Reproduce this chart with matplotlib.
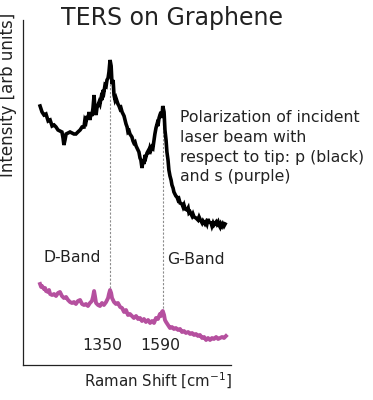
import matplotlib
matplotlib.use('Agg')
import matplotlib.pyplot as plt

# Raman shift [cm^-1] and intensity [arb units]
p_shift = [1030, 1039, 1048, 1057, 1067, 1076, 1085, 1094, 1103, 1112, 1121, 1130,
           1135, 1139, 1144, 1149, 1158, 1167, 1176, 1185, 1194, 1203, 1213, 1222,
           1231, 1235, 1240, 1245, 1249, 1254, 1258, 1263, 1267, 1272, 1277, 1281,
           1286, 1290, 1300, 1304, 1309, 1313, 1318, 1322, 1327, 1332, 1336, 1341,
           1345, 1350, 1355, 1359, 1364, 1368, 1373, 1377, 1386, 1391, 1396, 1400,
           1405, 1414, 1423, 1428, 1432, 1437, 1441, 1450, 1455, 1459, 1464, 1469,
           1478, 1482, 1487, 1491, 1496, 1501, 1505, 1510, 1514, 1519, 1524, 1528,
           1533, 1537, 1542, 1546, 1551, 1555, 1560, 1565, 1569, 1574, 1578, 1583,
           1587, 1591, 1597, 1601, 1606, 1610, 1615, 1619, 1624, 1629, 1633, 1638,
           1642, 1651, 1656, 1661, 1665, 1670, 1679, 1684, 1688, 1693, 1702, 1707,
           1711, 1716, 1725, 1729, 1734, 1743, 1752, 1757, 1761, 1771, 1775, 1784,
           1789, 1793, 1798, 1802, 1812, 1816, 1821, 1825, 1835, 1839, 1844, 1848,
           1853, 1857, 1862, 1866, 1871, 1876]
p_int = [259, 253, 250, 251, 244, 245, 239, 240, 238, 235, 234, 233,
         227, 220, 225, 231, 232, 233, 232, 231, 231, 233, 235, 238,
         238, 245, 243, 249, 246, 253, 245, 252, 249, 257, 270, 255,
         250, 257, 263, 261, 267, 265, 275, 273, 280, 279, 285, 287,
         293, 305, 299, 281, 285, 270, 265, 267, 261, 259, 256, 257,
         253, 249, 241, 238, 233, 234, 231, 228, 224, 222, 223, 219,
         215, 213, 207, 205, 197, 205, 201, 210, 208, 212, 214, 211,
         217, 215, 218, 217, 225, 231, 237, 241, 239, 247, 250, 253,
         247, 259, 253, 235, 225, 213, 205, 195, 189, 185, 180, 177,
         173, 169, 168, 165, 166, 162, 161, 158, 160, 156, 155, 157,
         152, 153, 149, 151, 148, 147, 145, 148, 146, 142, 144, 141,
         143, 141, 146, 143, 142, 139, 142, 140, 143, 141, 143, 140,
         138, 141, 139, 141, 139, 141]

s_shift = [1030, 1035, 1039, 1048, 1053, 1057, 1067, 1071, 1076, 1085, 1094, 1103,
           1112, 1121, 1130, 1139, 1149, 1158, 1167, 1176, 1185, 1194, 1203, 1213,
           1222, 1231, 1240, 1249, 1258, 1267, 1272, 1277, 1281, 1286, 1295, 1304,
           1313, 1322, 1332, 1341, 1345, 1350, 1355, 1359, 1368, 1377, 1386, 1396,
           1405, 1414, 1423, 1432, 1441, 1450, 1459, 1469, 1478, 1487, 1496, 1505,
           1514, 1524, 1533, 1542, 1551, 1560, 1569, 1578, 1583, 1587, 1591, 1597,
           1601, 1606, 1615, 1624, 1633, 1642, 1651, 1661, 1670, 1679, 1688, 1697,
           1707, 1716, 1725, 1734, 1743, 1752, 1761, 1771, 1780, 1789, 1798, 1807,
           1816, 1825, 1835, 1844, 1853, 1862, 1871, 1880]
s_int = [81, 78, 79, 76, 77, 74, 73, 75, 71, 70, 71, 69,
         72, 73, 69, 67, 68, 65, 63, 62, 63, 61, 64, 65,
         61, 60, 61, 59, 62, 64, 68, 74, 69, 62, 60, 59,
         62, 60, 63, 67, 71, 75, 72, 67, 63, 61, 62, 58,
         57, 53, 55, 50, 51, 49, 47, 49, 46, 47, 44, 46,
         43, 45, 42, 44, 42, 47, 46, 51, 49, 53, 54, 50,
         45, 43, 40, 37, 38, 36, 37, 35, 36, 33, 34, 32,
         33, 31, 32, 30, 31, 29, 30, 27, 28, 25, 27, 25,
         27, 26, 28, 26, 27, 28, 27, 29]

band_pos = [1350, 1590]
band_tick = ['1350', '1590']
band_name = ['D-Band', 'G-Band']
band_top = [290, 255]
band_bottom = [73, 53]

fig = plt.figure(figsize=(3.73, 4.0), dpi=100)
ax = fig.add_axes([23/373, 35/400, 208/373, 345/400])

# guide lines from peaks down to purple spectrum
for xb, yt, yb in zip(band_pos, band_top, band_bottom):
    ax.plot([xb, xb], [yb, yt], color='#8c8c8c', lw=0.8, ls=(0, (2, 1.5)), zorder=1)

ax.plot(p_shift, p_int, color='black', lw=2.6, solid_joinstyle='miter', zorder=3)
ax.plot(s_shift, s_int, color='#b5509f', lw=2.8, zorder=3)

ax.set_xlim(952, 1903)
ax.set_ylim(0, 345)
ax.set_xticks([])
ax.set_yticks([])
for side in ['top', 'right']:
    ax.spines[side].set_visible(False)
for side in ['left', 'bottom']:
    ax.spines[side].set_linewidth(0.9)
    ax.spines[side].set_color('#222222')

ax.text(1176, 107, band_name[0], ha='center', va='center', fontsize=11.3, color='#222222')
ax.text(1743, 105, band_name[1], ha='center', va='center', fontsize=11.3, color='#222222')
ax.text(1313, 19, band_tick[0], ha='center', va='center', fontsize=11.3, color='#222222')
ax.text(1579, 19, band_tick[1], ha='center', va='center', fontsize=11.3, color='#222222')

ax.text(1670, 255, 'Polarization of incident\nlaser beam with\nrespect to tip: p (black)\nand s (purple)',
        ha='left', va='top', fontsize=11.3, color='#222222', linespacing=1.4, clip_on=False)

fig.text(172/373, 1 - 18/400, 'TERS on Graphene', ha='center', va='center', fontsize=17, color='#222222')
fig.text(8/373, 1 - 95/400, 'Intensity [arb units]', rotation=90, ha='center', va='center',
         fontsize=12, color='#222222')
fig.text(232/373, 1 - 381/400, 'Raman Shift [cm$^{-1}$]', ha='right', va='center',
         fontsize=10.8, color='#222222')

fig.savefig('out.png', dpi=100)
